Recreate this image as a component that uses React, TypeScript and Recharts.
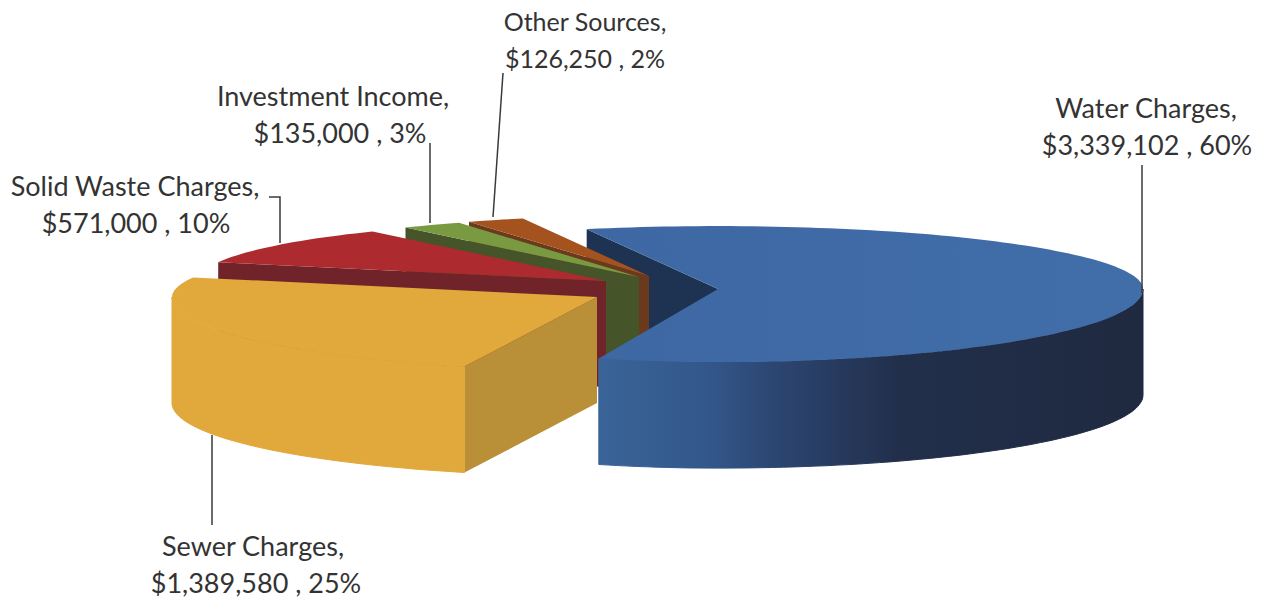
import React from 'react';
import { PieChart, Pie } from 'recharts';

// drawn back to front, counter-clockwise from the back of the pie
const categories = ['Other Sources', 'Investment Income', 'Solid Waste Charges', 'Sewer Charges', 'Water Charges'];
const amounts = [126250, 135000, 571000, 1389580, 3339102];
const percents = [2, 3, 10, 25, 60];
const data = categories.map((name, i) => ({ name, value: amounts[i] }));

const WIDTH = 1262;
const HEIGHT = 600;
const CX = 640;
const CY = 285;
const RADIUS = 425;
const DEPTH = 106;
const BACK_TILT = 0.148;
const FRONT_TILT = 0.172;

// explosion and look of each slice, same order as categories
const sliceStyles = [
  { dx: 9, dy: -9, scale: 0.96, squeeze: 1, top: '#a4531f', wall: '#a4531f', cut: '#6b3a1c' },
  { dx: -1, dy: -8, scale: 0.96, squeeze: 1, top: '#7a9a41', wall: '#7a9a41', cut: '#465529' },
  { dx: -34, dy: -4, scale: 0.96, squeeze: 1, top: '#ad2a2e', wall: '#ad2a2e', cut: '#70242a' },
  { dx: -43, dy: 12, scale: 1, squeeze: 1, top: '#e1a93c', wall: '#e1a93c', cut: '#b98f38' },
  { dx: 78, dy: 4, scale: 1, squeeze: 0.9, top: 'url(#waterTop)', wall: 'url(#waterWall)', cut: '#1e3252' },
];

const labelStyles = [
  { x: 585, x2: 585, y: 31, size: 25, line: '503,73 493,217' },
  { x: 333, x2: 340, y: 106, size: 27, line: '430,143 430,223' },
  { x: 135, x2: 136, y: 196, size: 27, line: '269,197 280,197 280,243' },
  { x: 253, x2: 256, y: 556, size: 27, line: '212,435 212,525' },
  { x: 1146, x2: 1147, y: 118, size: 27, line: '1142,165 1142,293' },
];

const rad = (deg: number) => (deg * Math.PI) / 180;

// squeeze pulls the front-left quarter of the rim in, the picture's perspective is not symmetric
function project(cx: number, cy: number, r: number, deg: number, squeeze = 1) {
  const s = Math.sin(rad(deg));
  const c = Math.cos(rad(deg));
  const xr = s < 0 && c < 0 ? r * squeeze : r;
  return [cx + xr * c, cy - r * s * (s > 0 ? BACK_TILT : FRONT_TILT)];
}

function arcPoints(cx: number, cy: number, r: number, from: number, to: number, squeeze = 1) {
  const pts: number[][] = [];
  for (let a = from; a < to; a += 1.5) pts.push(project(cx, cy, r, a, squeeze));
  pts.push(project(cx, cy, r, to, squeeze));
  return pts;
}

const toPath = (pts: number[][]) => 'M' + pts.map((p) => p[0].toFixed(1) + ' ' + p[1].toFixed(1)).join('L') + 'Z';

function cutFace(apex: number[], rim: number[]) {
  return toPath([apex, rim, [rim[0], rim[1] + DEPTH], [apex[0], apex[1] + DEPTH]]);
}

function geometry(props: any) {
  const style = sliceStyles[categories.indexOf(props.name)];
  const cx = props.cx + style.dx;
  const cy = props.cy + style.dy;
  const r = props.outerRadius * style.scale;
  return { style, cx, cy, r, start: props.startAngle, end: props.endAngle };
}

// the water slice's cut side sits behind the small slices, the rest of it in front
function WaterCut(props: any) {
  if (props.name !== 'Water Charges') return <g />;
  const { style, cx, cy, r, end } = geometry(props);
  return <path d={cutFace([cx, cy], project(cx, cy, r, end))} fill={style.cut} />;
}

function Slice3D(props: any) {
  const { style, cx, cy, r, start, end } = geometry(props);
  const apex = [cx, cy];
  const parts: React.ReactNode[] = [];

  if (props.name !== 'Water Charges' && Math.cos(rad(end)) < 0) {
    parts.push(<path key="cut-end" d={cutFace(apex, project(cx, cy, r, end))} fill={style.cut} />);
  }
  if (Math.cos(rad(start)) > 0) {
    parts.push(<path key="cut-start" d={cutFace(apex, project(cx, cy, r, start))} fill={style.cut} />);
  }

  // outer wall only where the rim faces the viewer
  const wallFrom = Math.max(start, 180);
  const wallTo = Math.min(end, 360);
  if (wallTo > wallFrom) {
    const rim = arcPoints(cx, cy, r, wallFrom, wallTo, style.squeeze);
    const lower = rim.map((p) => [p[0], p[1] + DEPTH]).reverse();
    // thin stroke closes the seam against the top face
    parts.push(<path key="wall" d={toPath([...rim, ...lower])} fill={style.wall} stroke={style.wall} strokeWidth={1} />);
  }

  parts.push(<path key="top" d={toPath([apex, ...arcPoints(cx, cy, r, start, end, style.squeeze)])} fill={style.top} />);
  return <g>{parts}</g>;
}

function renderLabel(props: any) {
  const i = categories.indexOf(props.name);
  const place = labelStyles[i];
  const second = '$' + amounts[i].toLocaleString('en-US') + ' , ' + percents[i] + '%';
  return (
    <g key={props.name}>
      <polyline points={place.line} fill="none" stroke="#3a3a3a" strokeWidth={1.5} />
      <text x={place.x} y={place.y} textAnchor="middle" fontFamily="Lato" fontSize={place.size} fill="#333">
        {props.name + ','}
      </text>
      <text x={place.x2} y={place.y + 37} textAnchor="middle" fontFamily="Lato" fontSize={place.size} fill="#333">
        {second}
      </text>
    </g>
  );
}

export default function App() {
  return (
    <div style={{ position: 'absolute', left: 0, top: 0, width: WIDTH, height: HEIGHT, background: '#fff' }}>
      <PieChart width={WIDTH} height={HEIGHT} margin={{ top: 0, right: 0, bottom: 0, left: 0 }}>
        <defs>
          <linearGradient id="waterTop" gradientUnits="userSpaceOnUse" x1="590" y1="0" x2="1143" y2="0">
            <stop offset="0" stopColor="#3d68a3" />
            <stop offset="1" stopColor="#416da9" />
          </linearGradient>
          <linearGradient id="waterWall" gradientUnits="userSpaceOnUse" x1="600" y1="0" x2="1143" y2="0">
            <stop offset="0" stopColor="#3a6498" />
            <stop offset="0.2" stopColor="#33578a" />
            <stop offset="0.32" stopColor="#2c4672" />
            <stop offset="0.55" stopColor="#222f4b" />
            <stop offset="1" stopColor="#1f2a40" />
          </linearGradient>
        </defs>
        <Pie
          data={data}
          dataKey="value"
          nameKey="name"
          cx={CX}
          cy={CY}
          innerRadius={0}
          outerRadius={RADIUS}
          startAngle={108}
          endAngle={468}
          stroke="none"
          shape={WaterCut}
          isAnimationActive={false}
        />
        <Pie
          data={data}
          dataKey="value"
          nameKey="name"
          cx={CX}
          cy={CY}
          innerRadius={0}
          outerRadius={RADIUS}
          startAngle={108}
          endAngle={468}
          stroke="none"
          shape={Slice3D}
          label={renderLabel}
          labelLine={false}
          isAnimationActive={false}
        />
      </PieChart>
    </div>
  );
}
